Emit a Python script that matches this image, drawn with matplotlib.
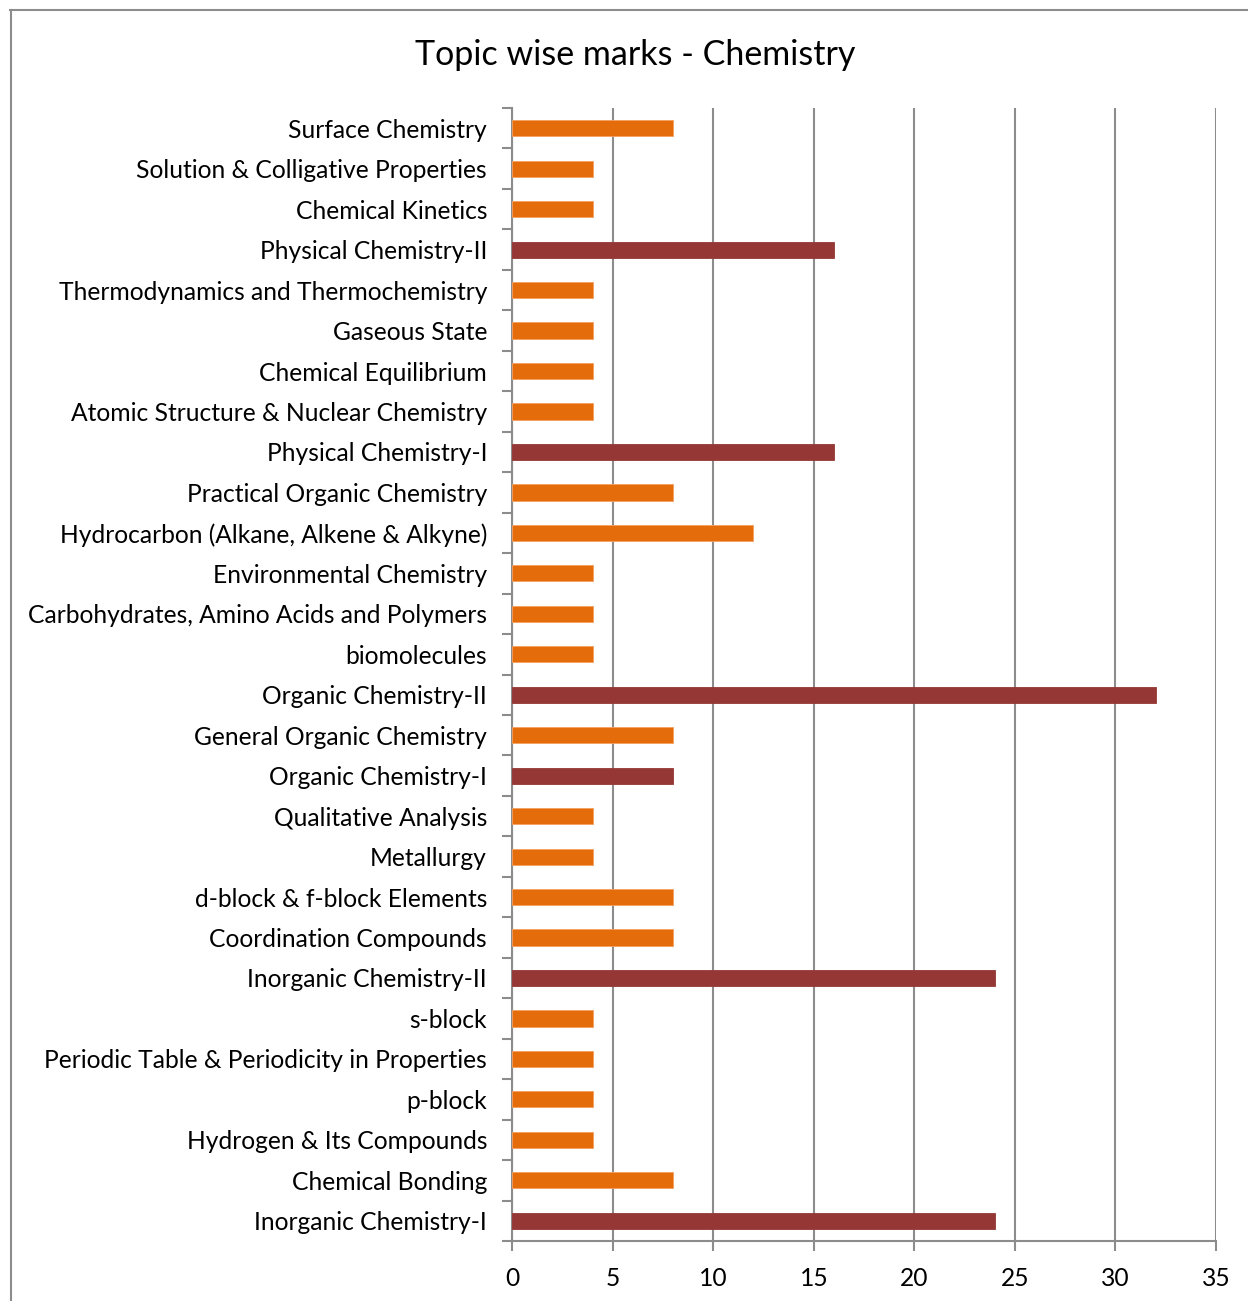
import matplotlib.pyplot as plt
import numpy as np

plt.rcParams['font.family'] = ['Lato', 'DejaVu Sans']

# bottom to top, as drawn
topics = ["Inorganic Chemistry-I", "Chemical Bonding", "Hydrogen & Its Compounds", "p-block",
          "Periodic Table & Periodicity in Properties", "s-block", "Inorganic Chemistry-II",
          "Coordination Compounds", "d-block & f-block Elements", "Metallurgy", "Qualitative Analysis",
          "Organic Chemistry-I", "General Organic Chemistry", "Organic Chemistry-II", "biomolecules",
          "Carbohydrates, Amino Acids and Polymers", "Environmental Chemistry",
          "Hydrocarbon (Alkane, Alkene & Alkyne)", "Practical Organic Chemistry", "Physical Chemistry-I",
          "Atomic Structure & Nuclear Chemistry", "Chemical Equilibrium", "Gaseous State",
          "Thermodynamics and Thermochemistry", "Physical Chemistry-II", "Chemical Kinetics",
          "Solution & Colligative Properties", "Surface Chemistry"]
marks = [24, 8, 4, 4, 4, 4, 24, 8, 8, 4, 4, 8, 8, 32, 4, 4, 4, 12, 8, 16, 4, 4, 4, 4, 16, 4, 4, 8]
is_group = [1, 0, 0, 0, 0, 0, 1, 0, 0, 0, 0, 1, 0, 1, 0, 0, 0, 0, 0, 1, 0, 0, 0, 0, 1, 0, 0, 0]

orange = '#E46C0A'
darkred = '#953735'
grey = '#8C8C8C'

fig = plt.figure(figsize=(12.48, 13.01), dpi=100)
ax = fig.add_axes([0.4103, 0.0461, 0.5641, 0.8709])

y = np.arange(len(topics))
cols = [darkred if g else orange for g in is_group]
edges = [darkred if g else '#F5A060' for g in is_group]
ax.barh(y, marks, height=0.4, color=cols, edgecolor=edges, linewidth=0.6, zorder=3)

ax.set_xlim(0, 35)
ax.set_ylim(-0.5, len(topics) - 0.5)
ax.set_xticks(np.arange(0, 36, 5))
ax.set_yticks(y)
ax.set_yticklabels(topics, fontsize=17.7)
ax.set_yticks(np.arange(-0.5, len(topics), 1), minor=True)
ax.tick_params(axis='y', which='major', length=0, pad=18)
ax.tick_params(axis='y', which='minor', length=7, color=grey, width=1.5)
ax.tick_params(axis='x', length=7, color=grey, width=1.5, labelsize=17.7, pad=12)
ax.grid(axis='x', color=grey, linewidth=1.5, zorder=0)
for s in ['top', 'right']:
    ax.spines[s].set_visible(False)
for s in ['left', 'bottom']:
    ax.spines[s].set_color(grey)
    ax.spines[s].set_linewidth(1.5)

fig.text(0.509, 0.958, "Topic wise marks - Chemistry", ha='center', va='center', fontsize=24.5)

# outer chart border (top and left only visible)
fig.add_artist(plt.Line2D([0.008, 1.0], [0.9923, 0.9923], color=grey, linewidth=1.5))
fig.add_artist(plt.Line2D([0.009, 0.009], [0.0, 0.9923], color=grey, linewidth=1.5))

fig.savefig('out.png', dpi=100)
